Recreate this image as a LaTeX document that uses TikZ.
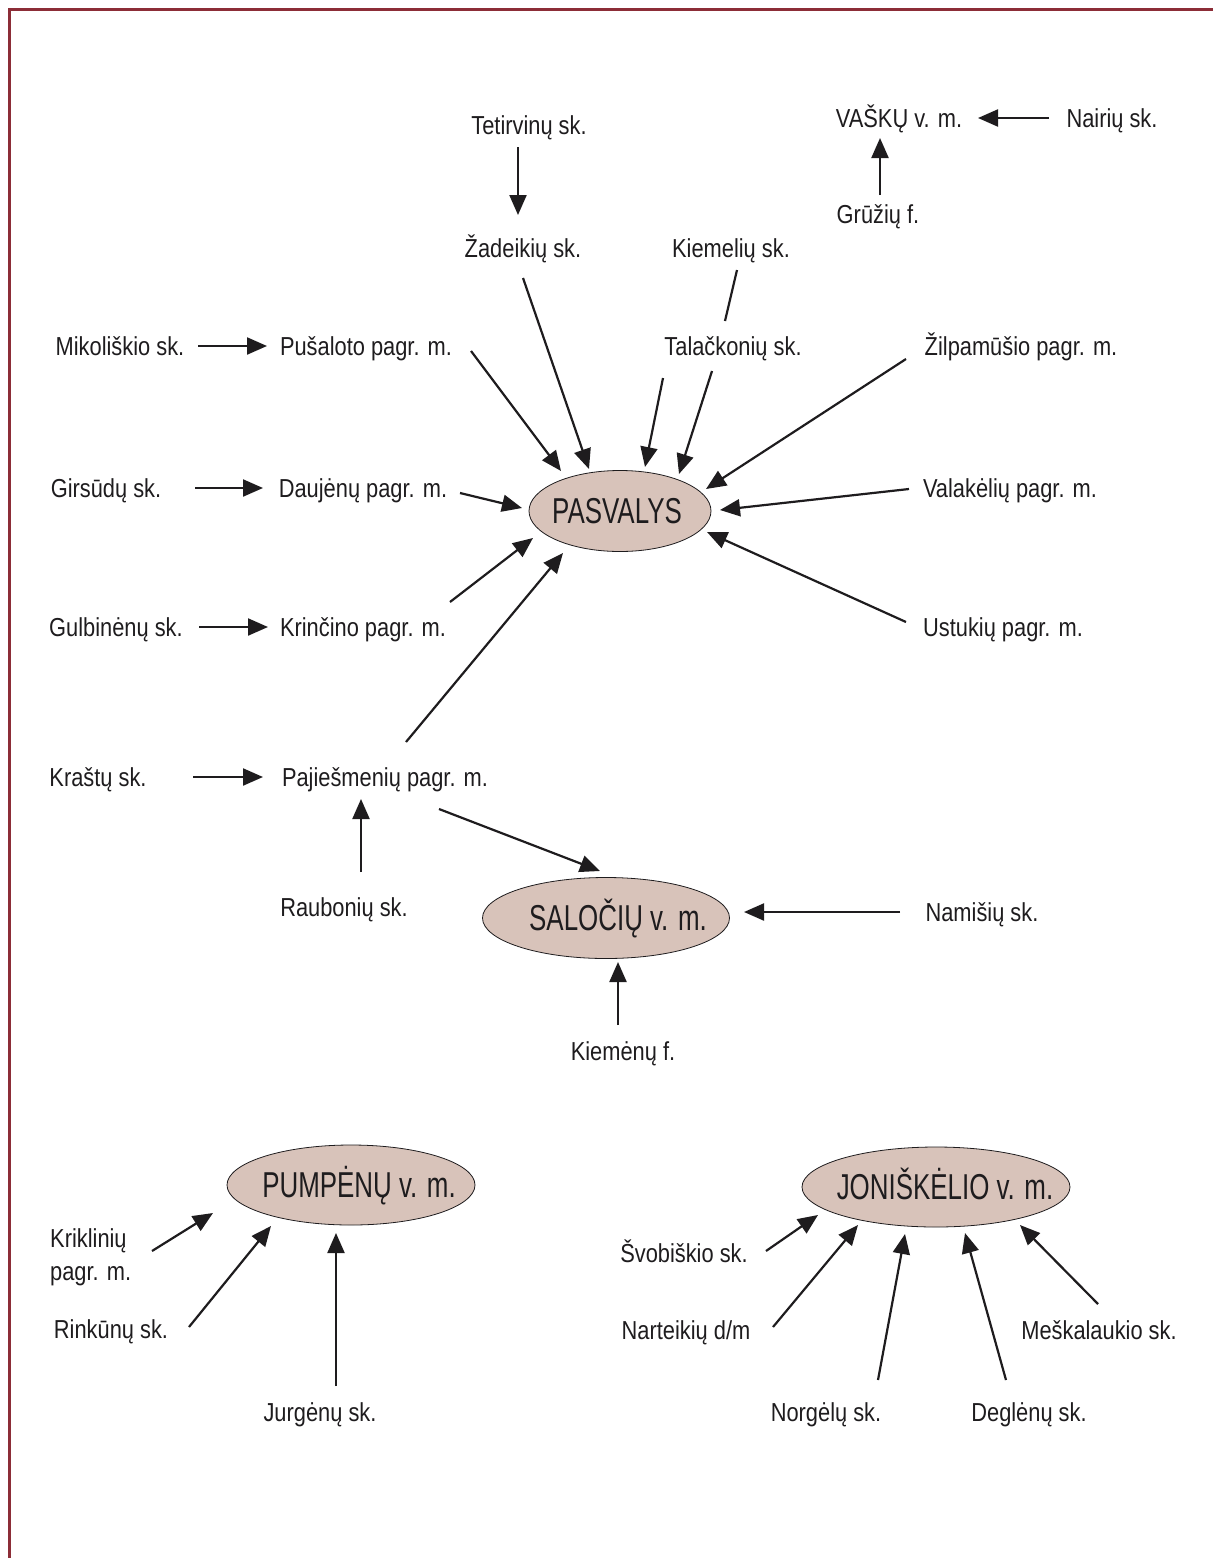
\documentclass[tikz,border=0pt]{standalone}
\usepackage{fontspec}
\setmainfont[FakeStretch=0.84]{Liberation Sans}
\newfontfamily\townfont[FakeStretch=0.72]{Liberation Sans}
\usetikzlibrary{arrows.meta,shapes.geometric}

\definecolor{townfill}{RGB}{216,195,186}
\definecolor{framered}{RGB}{140,45,55}
\definecolor{ink}{RGB}{30,28,30}

\tikzset{
  place/.style={inner sep=0pt,text height=18.6pt,text depth=0pt,text=ink,
    font=\fontsize{26}{31}\selectfont},
  town/.style={ellipse,draw=ink,line width=0.8pt,fill=townfill,inner sep=0pt},
  townlabel/.style={inner sep=0pt,text height=25.8pt,text depth=0pt,text=ink,
    font=\townfont\fontsize{36}{42}\selectfont},
  arr/.style={draw=ink,line width=2.2pt,-{Triangle[length=20pt,width=17pt]}}
}

\begin{document}
\begin{tikzpicture}[x=1pt,y=-1pt]
    \useasboundingbox (0,0) rectangle (1213,1558);
    \draw[framered,line width=3pt] (9.5,1558) -- (9.5,9.5) -- (1213,9.5);

    % upper part
    \node[place] (tet) at (529,125) {Tetirvinų sk.};
    \node[place] (zad) at (523,248) {Žadeikių sk.};
    \node[place] (kiem) at (731,248) {Kiemelių sk.};
    \node[place] (tal) at (733,346) {Talačkonių sk.};
    \node[place] (zil) at (1021,346) {Žilpamūšio pagr. m.};
    \node[place] (vas) at (899,118) {VAŠKŲ v. m.};
    \node[place] (nai) at (1112,118) {Nairių sk.};
    \node[place] (gru) at (878,214) {Grūžių f.};
    \node[place] (mik) at (120,346) {Mikoliškio sk.};
    \node[place] (pus) at (366,346) {Pušaloto pagr. m.};

    % around the towns
    \node[town,minimum width=182,minimum height=81,
      label={[townlabel,xshift=-3pt]center:PASVALYS}] (pas) at (620,511) {};
    \node[place] (gir) at (106,488) {Girsūdų sk.};
    \node[place] (dau) at (363,488) {Daujėnų pagr. m.};
    \node[place] (val) at (1010,488) {Valakėlių pagr. m.};
    \node[place] (gul) at (116,627) {Gulbinėnų sk.};
    \node[place] (kri) at (363,627) {Krinčino pagr. m.};
    \node[place] (ust) at (1003,627) {Ustukių pagr. m.};
    \node[place] (kra) at (98,777) {Kraštų sk.};
    \node[place] (paj) at (385,777) {Pajiešmenių pagr. m.};
    \node[place] (rau) at (344,907) {Raubonių sk.};
    \node[town,minimum width=247,minimum height=81,
      label={[townlabel,xshift=12pt]center:SALOČIŲ v. m.}] (sal) at (606,918) {};
    \node[place] (nam) at (982,912) {Namišių sk.};
    \node[place] (kmn) at (623,1051) {Kiemėnų f.};

    % lower part
    \node[town,minimum width=248,minimum height=80,
      label={[townlabel,xshift=8pt]center:PUMPĖNŲ v. m.}] (pum) at (351,1185) {};
    \node[inner sep=0pt,anchor=north west,align=left,text=ink,
      font=\fontsize{26}{33}\selectfont] (krk) at (50,1228) {Kriklinių\\pagr. m.};
    \node[place] (rin) at (111,1329) {Rinkūnų sk.};
    \node[place] (jur) at (320,1412) {Jurgėnų sk.};
    \node[town,minimum width=268,minimum height=80,
      label={[townlabel,xshift=9pt]center:JONIŠKĖLIO v. m.}] (jon) at (936,1187) {};
    \node[place] (svo) at (684,1253) {Švobiškio sk.};
    \node[place] (nar) at (686,1330) {Narteikių d/m};
    \node[place] (nor) at (826,1412) {Norgėlų sk.};
    \node[place] (deg) at (1029,1412) {Deglėnų sk.};
    \node[place] (mes) at (1099,1330) {Meškalaukio sk.};

    \foreach \a/\ax/\ay/\b/\bx/\by in {mik/78/0/pus/-99/0, tet/-11/22/zad/-5/-33,
      gru/2/-19/vas/-19/20, nai/-63/0/vas/79/0, pus/105/5/pas/-59/-40,
      zad/0/30/pas/-31/-42, tal/-70/32/pas/25/-44, tal/-21/25/pas/59/-37,
      zil/-115/13/pas/86/-22, gir/89/0/dau/-100/0, dau/97/5/pas/-98/-3,
      val/-101/1/pas/100/-1, gul/83/0/kri/-95/0, kri/87/-25/pas/-87/27,
      ust/-97/-5/pas/87/21, kra/95/0/paj/-122/0, paj/21/-35/pas/-57/42,
      rau/17/-35/paj/-24/22, paj/54/32/sal/-6/-47, nam/-82/0/sal/138/-6,
      kmn/-5/-26/sal/12/44, rin/78/-2/pum/-80/41, jur/16/-26/pum/-15/48,
      svo/82/-2/jon/-118/28, nar/87/-3/jon/-78/38, nor/52/-32/jon/-31/47,
      deg/-23/-32/jon/29/46, mes/-1/-26/jon/84/38} {
      \draw[arr] ([shift={(\ax,\ay)}]\a.center) -- ([shift={(\bx,\by)}]\b.center);
    }
    \draw[arr] ([shift={(102,23)}]krk.north west) -- ([shift={(-138,28)}]pum.center);
    \draw[ink,line width=2.2pt] ([shift={(6,22)}]kiem.center) -- ([shift={(-8,-25)}]tal.center);
\end{tikzpicture}
\end{document}
